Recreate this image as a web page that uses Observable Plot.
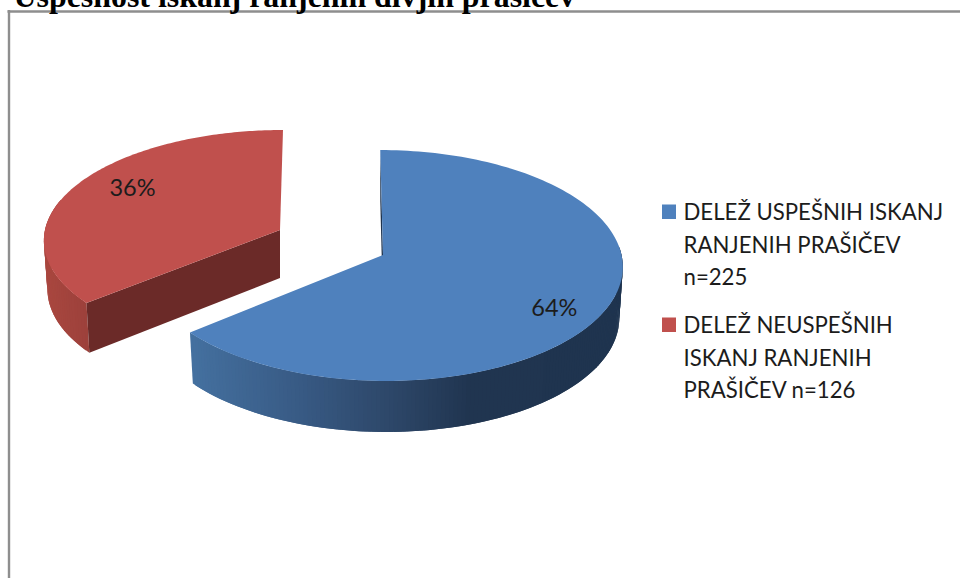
<!DOCTYPE html>
<html><head><meta charset="utf-8">
<script src="https://cdn.jsdelivr.net/npm/d3@7"></script>
<script src="https://cdn.jsdelivr.net/npm/@observablehq/plot@0.6"></script>
<style>html,body{margin:0;padding:0;background:#fff;overflow:hidden}svg{display:block}</style>
</head><body><div id="chart"></div>
<script>
const title = "Uspešnost iskanj ranjenih divjih prašičev";
const categories = ["DELEŽ USPEŠNIH ISKANJ\nRANJENIH PRAŠIČEV\nn=225", "DELEŽ NEUSPEŠNIH\nISKANJ RANJENIH\nPRAŠIČEV n=126"];
const counts = [225, 126];
const percents = [64, 36];

const total = d3.sum(percents);
const sweep = percents[0] / total * 2 * Math.PI; // blue runs clockwise from 12 o'clock

// Projection of the tilted disk (top and lower faces) for each slice
const blueTop = {cx: 383, cy: 255, A: 238.5, B: 114.5, k: 0.0909, c: 3};
const blueLow = {...blueTop, cy: 306, A: 235};
const redTop  = {cx: 280, cy: 230, A: 235, B: 108.4, k: 0.084, c: -3.25};
const redLow  = {...redTop, cy: 278, A: 231.5, B: 111};

const proj = (g, r, t) => {
  const d = 1 + g.k * r * Math.cos(t);
  return [g.cx + r * (g.A * Math.sin(t) - g.c * Math.cos(t)) / d, g.cy - r * g.B * Math.cos(t) / d];
};
const steps = (a, b, n) => d3.range(n + 1).map(i => a + (b - a) * i / n);
const sector = (g, a, b) => steps(a, b, 160).map(t => {
  const [x, y] = proj(g, 1, t);
  return {x1: g.cx, y1: g.cy, x2: x, y2: y};
});
const wall = (g, h, ts) => ts.map(t => {
  const [x1, y1] = proj(g, 1, t), [x2, y2] = proj(h, 1, t);
  return {x1, y1, x2, y2};
});
// Shaded side wall: painted as overlapping bands so no seams show between them.
const strips = (g, h, a, b, n, color) => {
  const out = [], ts = steps(a, b, n), last = Math.max(a, b);
  const dir = Math.sign(b - a);
  for (let i = 0; i < n; i++) {
    const end = dir > 0 ? Math.min(ts[i + 1] + Math.abs(b - a) / n, last) : Math.max(ts[i + 1] - Math.abs(b - a) / n, Math.min(a, b));
    const [p, q] = wall(g, h, [ts[i], end]);
    const f = color((p.x1 + wall(g, h, [ts[i + 1]])[0].x1) / 2);
    out.push({...p, z: i, f}, {...q, z: i, f});
  }
  return out;
};
const blueShade = d3.scaleLinear().domain([192, 300, 400, 470, 620])
  .range(["#44709f", "#385a84", "#2c4566", "#203550", "#1f344f"]).clamp(true);
const redShade = d3.scaleLinear().domain([45, 90]).range(["#a9473f", "#9b403b"]).clamp(true);

const areaOpts = {x1: "x1", y1: "y1", x2: "x2", y2: "y2", curve: "linear"};
const stripMark = data => Plot.area(data, {...areaOpts, z: "z", fill: "f"});

const lab = (g, r, t) => { const [x, y] = proj(g, r, t); return {x, y}; };
const pctLabels = [
  {...lab(blueTop, 0.815, sweep / 2 + 0.14), t: percents[0] + "%"},
  {...lab(redTop, 0.77, sweep + (2 * Math.PI - sweep) / 2 + 0.11), t: percents[1] + "%"}
];
const legend = categories.map((c, i) => ({c, i, f: ["#4f81bd", "#c0504d"][i], top: 204.5 + 113 * i}));

const fontLato = "Lato, 'Open Sans', sans-serif";
const chart = Plot.plot({
  width: 960, height: 578, margin: 0,
  x: {domain: [0, 960], axis: null},
  y: {domain: [578, 0], axis: null},
  color: {type: "identity"},
  marks: [
    // frame and clipped heading
    Plot.ruleY([11], {x1: 7.5, x2: 960, stroke: "#8e8e8e", strokeWidth: 2.4}),
    Plot.ruleX([8.5], {y1: 10, y2: 578, stroke: "#8e8e8e", strokeWidth: 2.4}),
    Plot.text([title], {x: 13, y: 6, text: d => d, textAnchor: "start", lineAnchor: "bottom",
      fontFamily: "'Liberation Serif', serif", fontWeight: "bold", fontSize: 31.9, fill: "#000"}),
    // blue slice
    Plot.area(wall(blueTop, blueLow, [0]).flatMap(p => [
      {x1: blueTop.cx, y1: blueTop.cy, x2: blueLow.cx, y2: blueLow.cy},
      p]), {...areaOpts, fill: "#1f344f"}),
    stripMark(strips(blueTop, blueLow, sweep, 1.5, 150, blueShade)),
    Plot.area(sector(blueTop, 0, sweep), {...areaOpts, fill: "#4f81bd"}),
    // red slice
    stripMark(strips(redTop, redLow, sweep, 5.0, 40, redShade)),
    Plot.area([
      {x1: redTop.cx, y1: redTop.cy, x2: redLow.cx, y2: redLow.cy},
      wall(redTop, redLow, [sweep])[0]
    ], {...areaOpts, fill: "#6b2a28"}),
    Plot.area(sector(redTop, sweep, 2 * Math.PI), {...areaOpts, fill: "#c0504d"}),
    // value labels
    Plot.text(pctLabels, {x: "x", y: "y", text: "t", fontFamily: fontLato, fontSize: 23.5, fill: "#1c1c1c"}),
    // legend
    Plot.rect(legend, {x1: 662, x2: 676, y1: "top", y2: d => d.top + 14.5, fill: "f"}),
    Plot.text(legend, {x: 683, y: d => d.top - 8, text: "c", textAnchor: "start", lineAnchor: "top",
      lineHeight: 1.47, fontFamily: fontLato, fontSize: 22.2, fill: "#1c1c1c"})
  ]
});
document.getElementById("chart").appendChild(chart);
</script></body></html>
